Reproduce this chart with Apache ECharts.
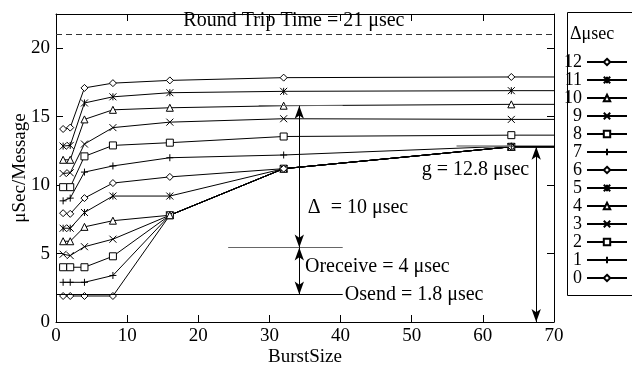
<!DOCTYPE html>
<html>
<head>
<meta charset="utf-8">
<script src="https://cdn.jsdelivr.net/npm/echarts@6/dist/echarts.min.js"></script>
<style>
html, body { margin: 0; padding: 0; background: #fff; }
#main { width: 632px; height: 371px; }
</style>
</head>
<body>
<div id="main"></div>
<script>
// burst sizes (last one only carries the plateau out past the right edge)
var bursts = [1, 2, 4, 8, 16, 32, 64, 128];
var deltas = ['0', '1', '2', '3', '4', '5', '6', '7', '8', '9', '10', '11', '12'];

var d0  = [1.9, 1.9, 1.9, 1.9, 7.8, 11.2, 12.8, 12.8];
var d1  = [2.9, 2.9, 2.9, 3.4, 7.8, 11.2, 12.8, 12.8];
var d2  = [4.0, 4.0, 4.0, 4.8, 7.8, 11.2, 12.8, 12.8];
var d3  = [4.95, 4.85, 5.5, 6.05, 7.8, 11.2, 12.8, 12.8];
var d4  = [5.9, 5.9, 6.95, 7.4, 7.8, 11.2, 12.8, 12.8];
var d5  = [6.85, 6.85, 8.0, 9.2, 9.2, 11.2, 12.8, 12.8];
var d6  = [7.95, 7.9, 9.05, 10.15, 10.6, 11.2, 12.8, 12.8];
var d7  = [8.85, 9.05, 10.95, 11.4, 12.0, 12.2, 12.85, 12.85];
var d8  = [9.85, 9.85, 12.1, 12.9, 13.1, 13.55, 13.65, 13.65];
var d9  = [10.85, 10.9, 13.0, 14.2, 14.6, 14.85, 14.8, 14.8];
var d10 = [11.85, 11.85, 14.8, 15.5, 15.65, 15.8, 15.9, 15.9];
var d11 = [12.85, 12.9, 16.0, 16.45, 16.75, 16.85, 16.9, 16.9];
var d12 = [14.1, 14.2, 17.1, 17.45, 17.65, 17.85, 17.9, 17.9];
var values = [d0, d1, d2, d3, d4, d5, d6, d7, d8, d9, d10, d11, d12];

// annotation levels (µsec) and positions (burst size)
var rtt = 21;
var osendY = 2.0;
var orecvY = 5.45;
var deltaTopY = 15.8;
var gY = 12.8;
var arrowX = 34.2;
var gArrowX = 67.5;

var FONT = 'Liberation Serif';

var symPlus = 'path://M5 0L5 10M0 5L10 5';
var symCross = 'path://M0 0L10 10M10 0L0 10';
var symStar = 'path://M0 0L10 10M10 0L0 10M5 0L5 10';
var symbols = ['diamond', symPlus, 'rect', symCross, 'triangle', symStar,
               'diamond', symPlus, 'rect', symCross, 'triangle', symStar, 'diamond'];

var chart = echarts.init(document.getElementById('main'));

var series = [];
for (var i = 0; i < values.length; i++) {
    var pts = [];
    for (var j = 0; j < bursts.length; j++) {
        pts.push([bursts[j], values[i][j]]);
    }
    series.push({
        name: deltas[i],
        type: 'line',
        data: pts,
        symbol: symbols[i],
        symbolSize: 7,
        showAllSymbol: true,
        clip: true,
        lineStyle: { color: '#000', width: 1 },
        itemStyle: { color: '#fff', borderColor: '#000', borderWidth: 1 },
        emphasis: { disabled: true }
    });
}

function arrow(x, y1, y2) {
    return [
        { coord: [x, y1], symbol: 'arrow', symbolSize: [7, 13] },
        { coord: [x, y2], symbol: 'arrow', symbolSize: [7, 13] }
    ];
}

series.push({
    name: 'annot',
    type: 'line',
    data: [],
    markLine: {
        silent: true,
        animation: false,
        symbol: 'none',
        label: { show: false },
        lineStyle: { color: '#000', width: 1, type: 'solid' },
        emphasis: { disabled: true },
        data: [
            [{ coord: [0, rtt], lineStyle: { type: [6, 4], color: '#333' } }, { coord: [70, rtt] }],
            [{ coord: [0, osendY] }, { coord: [40.3, osendY] }],
            [{ coord: [24.2, orecvY], lineStyle: { color: '#666' } }, { coord: [40.3, orecvY] }],
            [{ coord: [28.5, deltaTopY], lineStyle: { color: '#666' } }, { coord: [40.3, deltaTopY] }],
            [{ coord: [56.3, gY + 0.1], lineStyle: { color: '#888', width: 1.5 } }, { coord: [64, gY + 0.1] }],
            arrow(arrowX, osendY, orecvY),
            arrow(arrowX, orecvY, deltaTopY),
            arrow(gArrowX, 0, gY)
        ]
    }
});

var axisCommon = {
    type: 'value',
    axisLine: { show: true, onZero: false, lineStyle: { color: '#000', width: 1 } },
    axisTick: { show: true, inside: true, length: 7, lineStyle: { color: '#000' } },
    splitLine: { show: false }
};

option = {
    animation: false,
    backgroundColor: '#fff',
    grid: { left: 56, right: 78, top: 14, bottom: 49, containLabel: false, outerBoundsMode: 'none' },
    xAxis: [
        Object.assign({}, axisCommon, {
            min: 0, max: 70, interval: 10,
            position: 'bottom',
            axisLabel: { fontFamily: FONT, fontSize: 19, color: '#000', margin: 5 },
            name: 'BurstSize',
            nameLocation: 'middle',
            nameGap: 26,
            nameMoveOverlap: false,
            nameTextStyle: { fontFamily: FONT, fontSize: 19, color: '#000' }
        }),
        Object.assign({}, axisCommon, {
            min: 0, max: 70, interval: 10,
            position: 'top',
            axisLabel: { show: false }
        })
    ],
    yAxis: [
        Object.assign({}, axisCommon, {
            min: 0, max: 22.5, interval: 5,
            position: 'left',
            axisLabel: { fontFamily: FONT, fontSize: 19, color: '#000', margin: 6, showMaxLabel: false },
            name: 'μSec/Message',
            nameLocation: 'middle',
            nameGap: 26,
            nameMoveOverlap: false,
            nameTextStyle: { fontFamily: FONT, fontSize: 19, color: '#000' }
        }),
        Object.assign({}, axisCommon, {
            min: 0, max: 22.5, interval: 5,
            position: 'right',
            axisLabel: { show: false }
        })
    ],
    legend: {
        data: deltas.slice().reverse(),
        orient: 'vertical',
        right: 4,
        top: 53,
        align: 'right',
        itemWidth: 40,
        itemHeight: 8,
        itemGap: 0,
        padding: 0,
        selectedMode: false,
        textStyle: { fontFamily: FONT, fontSize: 18, color: '#000', lineHeight: 18 }
    },
    series: series
};

chart.setOption(option);

function px(x, y) {
    return chart.convertToPixel({ xAxisIndex: 0, yAxisIndex: 0 }, [x, y]);
}

function note(text, x, y, align) {
    var p = px(x, y);
    return {
        type: 'text',
        x: p[0],
        y: p[1],
        silent: true,
        style: {
            text: text,
            fill: '#000',
            font: '20px "' + FONT + '"',
            align: align || 'left',
            verticalAlign: 'middle'
        }
    };
}

chart.setOption({
    graphic: [
        note('Round Trip Time = 21 μsec', 17.9, 22.0),
        note('Δ  = 10 μsec', 35.4, 8.37),
        note('Oreceive = 4 μsec', 35.0, 4.04),
        note('Osend = 1.8 μsec', 40.6, 1.97),
        note('g = 12.8 μsec', 51.4, 11.1),
        {
            type: 'rect',
            silent: true,
            shape: { x: 567.5, y: 12.5, width: 80, height: 283 },
            style: { fill: 'none', stroke: '#000', lineWidth: 1 }
        },
        {
            type: 'text',
            silent: true,
            x: 570,
            y: 34,
            style: {
                text: 'Δμsec',
                fill: '#000',
                font: '18px "' + FONT + '"',
                align: 'left',
                verticalAlign: 'middle'
            }
        }
    ]
});
</script>
</body>
</html>
